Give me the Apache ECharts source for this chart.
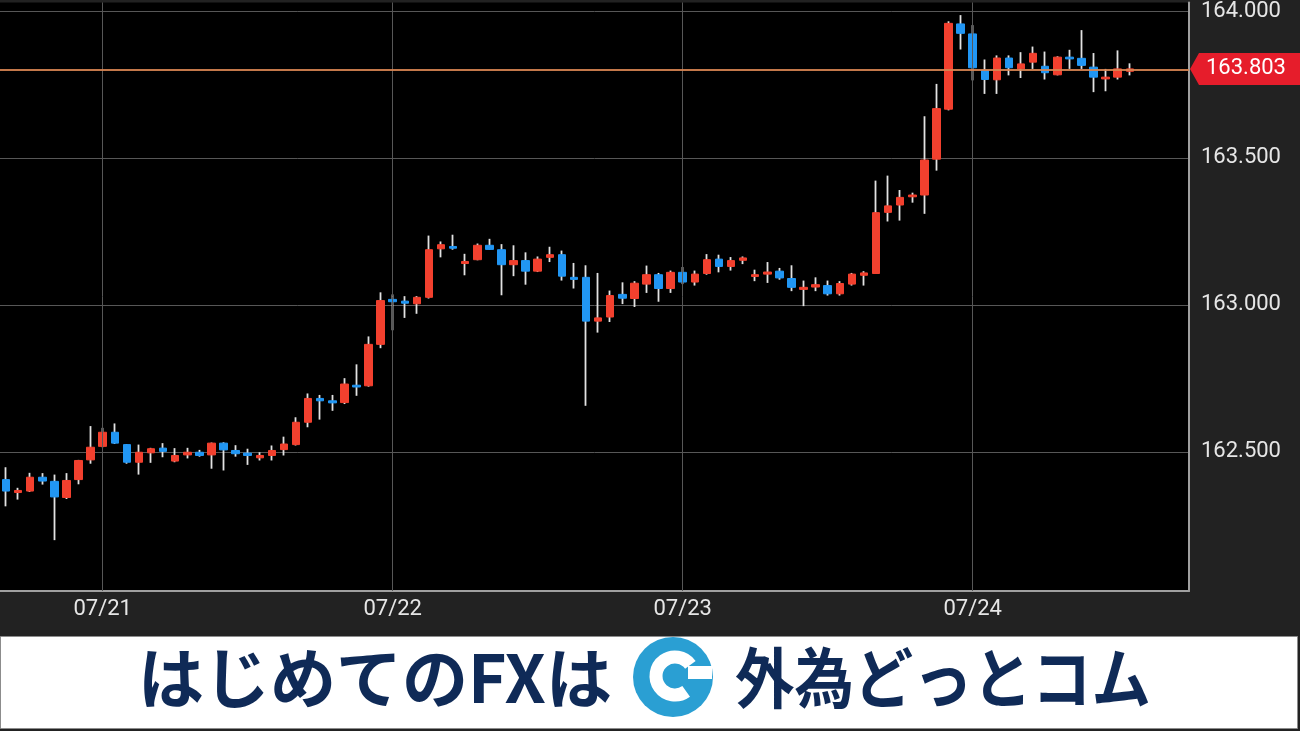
<!DOCTYPE html>
<html><head><meta charset="utf-8">
<script src="https://cdn.jsdelivr.net/npm/echarts@6/dist/echarts.min.js"></script>
<style>html,body{margin:0;padding:0;background:#222;}#c{width:1300px;height:731px;}</style>
</head><body><div id="c"></div>
<script>
// hourly candle times
const times = [
'07/20 16:00','07/20 17:00','07/20 18:00','07/20 19:00','07/20 20:00','07/20 21:00','07/20 22:00','07/20 23:00',
'07/21 00:00','07/21 01:00','07/21 02:00','07/21 03:00','07/21 04:00','07/21 05:00','07/21 06:00','07/21 07:00',
'07/21 08:00','07/21 09:00','07/21 10:00','07/21 11:00','07/21 12:00','07/21 13:00','07/21 14:00','07/21 15:00',
'07/21 16:00','07/21 17:00','07/21 18:00','07/21 19:00','07/21 20:00','07/21 21:00','07/21 22:00','07/21 23:00',
'07/22 00:00','07/22 01:00','07/22 02:00','07/22 03:00','07/22 04:00','07/22 05:00','07/22 06:00','07/22 07:00',
'07/22 08:00','07/22 09:00','07/22 10:00','07/22 11:00','07/22 12:00','07/22 13:00','07/22 14:00','07/22 15:00',
'07/22 16:00','07/22 17:00','07/22 18:00','07/22 19:00','07/22 20:00','07/22 21:00','07/22 22:00','07/22 23:00',
'07/23 00:00','07/23 01:00','07/23 02:00','07/23 03:00','07/23 04:00','07/23 05:00','07/23 06:00','07/23 07:00',
'07/23 08:00','07/23 09:00','07/23 10:00','07/23 11:00','07/23 12:00','07/23 13:00','07/23 14:00','07/23 15:00',
'07/23 16:00','07/23 17:00','07/23 18:00','07/23 19:00','07/23 20:00','07/23 21:00','07/23 22:00','07/23 23:00',
'07/24 00:00','07/24 01:00','07/24 02:00','07/24 03:00','07/24 04:00','07/24 05:00','07/24 06:00','07/24 07:00',
'07/24 08:00','07/24 09:00','07/24 10:00','07/24 11:00','07/24 12:00','07/24 13:00'
];
const open = [
162.406,162.362,162.367,162.414,162.400,162.345,162.406,162.473,
162.519,162.567,162.525,162.465,162.497,162.513,162.469,162.490,
162.499,162.490,162.530,162.505,162.496,162.480,162.488,162.508,
162.525,162.601,162.682,162.674,162.668,162.727,162.725,162.866,
163.019,163.013,163.004,163.026,163.191,163.199,163.141,163.154,
163.203,163.188,163.137,163.151,163.115,163.162,163.171,163.094,
163.094,162.945,162.959,163.036,163.022,163.071,163.103,163.056,
163.111,163.078,163.107,163.156,163.131,163.152,163.097,163.105,
163.115,163.090,163.053,163.061,163.066,163.038,163.071,163.101,
163.107,163.315,163.340,163.368,163.374,163.496,163.666,163.956,
163.922,163.798,163.766,163.840,163.803,163.826,163.812,163.783,
163.843,163.839,163.809,163.769,163.775,163.795
];
const close = [
162.367,162.369,162.414,162.401,162.347,162.403,162.471,162.516,
162.567,162.530,162.465,162.499,162.511,162.502,162.488,162.499,
162.488,162.530,162.507,162.494,162.488,162.488,162.505,162.527,
162.601,162.682,162.674,162.667,162.731,162.721,162.866,163.015,
163.011,163.006,163.026,163.188,163.205,163.193,163.148,163.203,
163.189,163.137,163.151,163.115,163.156,163.171,163.098,163.087,
162.945,162.956,163.032,163.023,163.074,163.103,163.056,163.111,
163.078,163.105,163.154,163.131,163.151,163.160,163.103,163.112,
163.092,163.060,163.060,163.069,163.038,163.073,163.105,163.109,
163.314,163.337,163.366,163.374,163.493,163.668,163.958,163.924,
163.807,163.767,163.840,163.807,163.820,163.856,163.790,163.843,
163.837,163.815,163.775,163.775,163.803,163.803
];
const low = [
162.315,162.338,162.364,162.389,162.200,162.340,162.390,162.460,
162.516,162.527,162.460,162.423,162.463,162.482,162.465,162.478,
162.484,162.443,162.437,162.484,162.456,162.471,162.471,162.488,
162.522,162.584,162.610,162.640,162.663,162.691,162.722,162.853,
162.914,162.956,162.970,163.022,163.162,163.188,163.101,163.152,
163.188,163.033,163.098,163.069,163.112,163.146,163.083,163.056,
162.657,162.906,162.942,163.003,162.993,163.041,163.011,163.041,
163.071,163.066,163.103,163.111,163.117,163.139,163.081,163.075,
163.086,163.047,162.996,163.047,163.032,163.032,163.066,163.066,
163.106,163.284,163.287,163.348,163.310,163.457,163.662,163.869,
163.764,163.718,163.718,163.781,163.772,163.803,163.767,163.781,
163.803,163.803,163.724,163.727,163.767,163.781
];
const high = [
162.448,162.378,162.429,162.428,162.423,162.428,162.473,162.588,
162.582,162.597,162.527,162.525,162.514,162.530,162.513,162.514,
162.507,162.532,162.533,162.523,162.511,162.499,162.522,162.552,
162.618,162.699,162.694,162.694,162.751,162.798,162.893,163.043,
163.036,163.030,163.030,163.236,163.216,163.239,163.174,163.209,
163.225,163.207,163.203,163.179,163.165,163.198,163.185,163.143,
163.135,163.109,163.049,163.077,163.081,163.134,163.109,163.117,
163.129,163.117,163.173,163.171,163.163,163.165,163.120,163.146,
163.126,163.135,163.083,163.094,163.083,163.081,163.109,163.115,
163.423,163.440,163.391,163.382,163.642,163.752,163.965,163.986,
163.952,163.835,163.849,163.849,163.860,163.879,163.862,163.846,
163.868,163.935,163.857,163.803,163.866,163.822
];
const bannerLeft = 'はじめてのFXは';
const bannerRight = '外為どっとコム';

const dayIdx = times.map((t, i) => t.endsWith('00:00') ? i : -1).filter(i => i >= 0);
const lastClose = close[close.length - 1];

const wickData = times.map((t, i) => [i, open[i], close[i], low[i], high[i]]);
const bodyData = times.map((t, i) => [i, open[i], close[i], Math.min(open[i], close[i]), Math.max(open[i], close[i])]);

const UP = '#f2402e', DOWN = '#2196f3', WICK = '#e2e2e2';
const chart = echarts.init(document.getElementById('c'), null, {renderer: 'canvas'});
const option = {
  animation: false,
  backgroundColor: '#222222',
  textStyle: {fontFamily: 'Roboto'},
  grid: {left: 0, top: 0, width: 1189, height: 591, show: true, backgroundColor: '#000', borderWidth: 0},
  xAxis: {
    type: 'value', min: -0.5, max: 97.9,
    axisLine: {show: true, onZero: false, lineStyle: {color: '#a0a0a0', width: 2}},
    axisTick: {show: false},
    splitLine: {show: false},
    axisLabel: {
      customValues: dayIdx,
      formatter: v => (times[Math.round(v)] || '').slice(0, 5),
      color: '#e6e6e6', fontSize: 22, margin: 7, fontFamily: 'Roboto'
    }
  },
  yAxis: {
    type: 'value', position: 'right', min: 162.027, max: 164.029, scale: true,
    minInterval: 0.5, maxInterval: 0.5,
    axisLine: {show: true, onZero: false, lineStyle: {color: '#a0a0a0', width: 2}},
    axisTick: {show: false},
    splitLine: {show: true, showMinLine: false, showMaxLine: false, lineStyle: {color: '#575757', width: 1}},
    axisLabel: {
      color: '#e6e6e6', fontSize: 22, margin: 12, fontFamily: 'Roboto',
      showMinLabel: false, showMaxLabel: false,
      formatter: v => v.toFixed(3)
    }
  },
  series: [
    {
      type: 'line', data: [], z: 1, silent: true,
      markLine: {
        silent: true, symbol: ['none', 'none'], animation: false,
        label: {show: false},
        lineStyle: {color: '#575757', width: 1, type: 'solid'},
        data: dayIdx.map(i => ({xAxis: i}))
      }
    },
    {
      type: 'candlestick', z: 2, silent: true,
      dimensions: ['t', 'open', 'close', 'low', 'high'],
      encode: {x: 0, y: [1, 2, 3, 4]},
      data: wickData, barWidth: 1,
      itemStyle: {color: WICK, color0: WICK, borderColor: WICK, borderColor0: WICK, borderWidth: 1.8}
    },
    {
      type: 'candlestick', z: 3, silent: true,
      dimensions: ['t', 'open', 'close', 'low', 'high'],
      encode: {x: 0, y: [1, 2, 3, 4]},
      data: bodyData, barWidth: 8,
      itemStyle: {color: UP, color0: DOWN, borderColor: UP, borderColor0: DOWN, borderWidth: 1}
    },
    {
      type: 'line', data: [], z: 5, silent: true,
      markLine: {
        silent: true, symbol: ['none', 'none'], animation: false,
        label: {show: false},
        lineStyle: {color: '#d98552', width: 2, type: 'solid', opacity: 0.9},
        data: [{yAxis: lastClose}]
      }
    }
  ]
};
chart.setOption(option);

const py = chart.convertToPixel({yAxisIndex: 0}, lastClose);
chart.setOption({
  graphic: {elements: [
    {type: 'polygon', z: 10, shape: {points: [[1190, py], [1199, py - 16], [1300, py - 16], [1300, py + 16], [1199, py + 16]]}, style: {fill: '#e61d2b'}},
    {type: 'text', z: 11, x: 1206, y: py, style: {text: lastClose.toFixed(3), fill: '#fff', font: '22px Roboto', verticalAlign: 'middle'}},
    {type: 'rect', z: 10, shape: {x: 0.5, y: 636.5, width: 1297, height: 92}, style: {fill: '#fff', stroke: '#8c8c8c', lineWidth: 1}},
    {type: 'text', z: 11, x: 138, y: 678, style: {text: bannerLeft, fill: '#0f2a57', font: 'bold 66px "Noto Sans CJK JP"', verticalAlign: 'middle'}},
    {type: 'circle', z: 11, shape: {cx: 673, cy: 677, r: 40}, style: {fill: '#2a9fd3'}},
    {type: 'arc', z: 12, shape: {cx: 675, cy: 676, r: 19, startAngle: Math.PI * 0.3, endAngle: Math.PI * 1.8, clockwise: true}, style: {stroke: '#fff', lineWidth: 13, fill: null}},
    {type: 'rect', z: 12, shape: {x: 688, y: 666, width: 24, height: 13}, style: {fill: '#fff'}},
    {type: 'text', z: 11, x: 735, y: 678, scaleX: 0.9, style: {text: bannerRight, fill: '#0f2a57', font: 'bold 66px "Noto Sans CJK JP"', verticalAlign: 'middle'}}
  ]}
});
</script>
</body></html>
